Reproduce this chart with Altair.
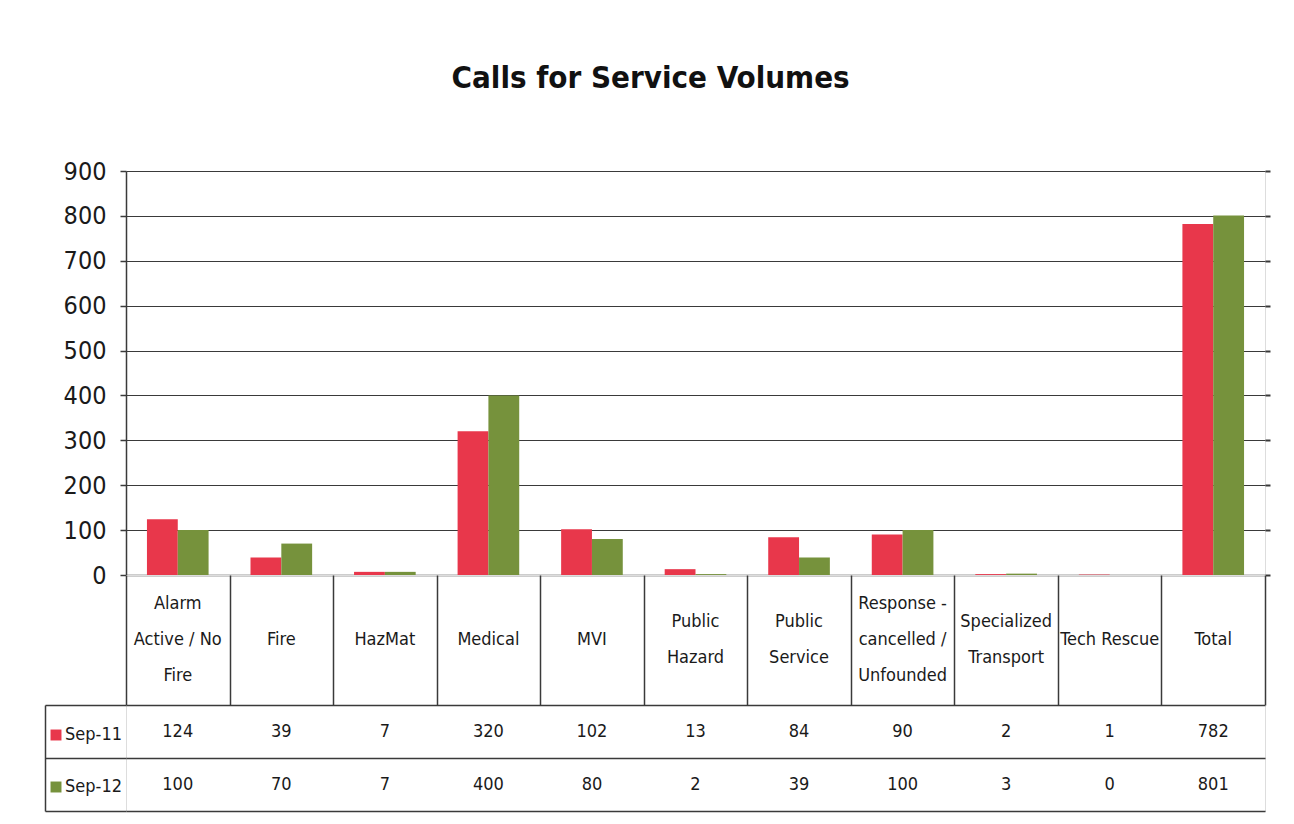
import altair as alt
import pandas as pd

categories = ["Alarm Active / No Fire", "Fire", "HazMat", "Medical", "MVI", "Public Hazard",
              "Public Service", "Response - cancelled / Unfounded", "Specialized Transport",
              "Tech Rescue", "Total"]
header_labels = ["Alarm|Active / No|Fire", "Fire", "HazMat", "Medical", "MVI", "Public|Hazard",
                 "Public|Service", "Response -|cancelled /|Unfounded", "Specialized|Transport",
                 "Tech Rescue", "Total"]
series = ["Sep-11", "Sep-12"]
sep11 = [124, 39, 7, 320, 102, 13, 84, 90, 2, 1, 782]
sep12 = [100, 70, 7, 400, 80, 2, 39, 100, 3, 0, 801]
colors = ["#E8374B", "#76923C"]
y_ticks = [0, 100, 200, 300, 400, 500, 600, 700, 800, 900]

rows = []
for c, a, b in zip(categories, sep11, sep12):
    rows.append({"category": c, "series": series[0], "value": a})
    rows.append({"category": c, "series": series[1], "value": b})
df = pd.DataFrame(rows)
ticks_df = pd.DataFrame({"v": y_ticks})

hdr_rows = []
for c, h in zip(categories, header_labels):
    parts = h.split("|")
    n = len(parts)
    for i, p in enumerate(parts):
        hdr_rows.append({"category": c, "line": p, "pos": i - (n - 1) / 2})
hdr = pd.DataFrame(hdr_rows)

FONT = "Liberation Sans Narrow, DejaVu Sans Condensed, sans-serif"
LINE = "#3a3a3a"
TXT = "#1a1a1a"
W = 1139

xscale = alt.Scale(domain=categories, paddingInner=0, paddingOuter=0)
yscale = alt.Scale(domain=[0, 900], nice=False)

bars = alt.Chart(df).mark_bar().encode(
    x=alt.X("category:N", sort=categories, scale=xscale,
            axis=alt.Axis(title=None, labels=False, ticks=False, domain=True,
                          domainColor=LINE, domainWidth=1.5, grid=False)),
    xOffset=alt.XOffset("series:N", sort=series,
                        scale=alt.Scale(domain=series, paddingOuter=0.68, paddingInner=0)),
    y=alt.Y("value:Q", scale=yscale,
            axis=alt.Axis(values=y_ticks, title=None, labelFontSize=25, labelColor=TXT,
                          grid=True, gridColor=LINE, gridWidth=1.2, tickSize=6,
                          tickColor=LINE, tickWidth=1.5, domain=True, domainColor=LINE,
                          domainWidth=1.5, labelPadding=14)),
    color=alt.Color("series:N", scale=alt.Scale(domain=series, range=colors), legend=None),
)

right_ticks = alt.Chart(ticks_df).mark_point(opacity=0).encode(
    y=alt.Y("v:Q", scale=yscale,
            axis=alt.Axis(orient="right", values=y_ticks, title=None, labels=False, grid=False,
                          domain=False, tickSize=5, tickColor=LINE, tickWidth=2)),
)

bar_panel = alt.layer(bars, right_ticks).resolve_axis(y="independent").properties(
    width=W, height=404)

header = alt.Chart(hdr).mark_text(fontSize=18, color=TXT).encode(
    x=alt.X("category:N", sort=categories, scale=xscale,
            axis=alt.Axis(title=None, labels=False, ticks=False, domain=False, grid=True,
                          tickBand="extent", gridColor=LINE, gridWidth=1.5)),
    y=alt.Y("pos:Q", scale=alt.Scale(domain=[1.8, -1.8], nice=False, zero=False), axis=None),
    text="line:N",
).properties(width=W, height=130)

vals = alt.Chart(df).mark_text(fontSize=18, color=TXT).encode(
    x=alt.X("category:N", sort=categories, scale=xscale, axis=None),
    y=alt.Y("series:N", sort=series, scale=alt.Scale(domain=series, paddingInner=0, paddingOuter=0),
            axis=alt.Axis(title=None, labels=False, domain=False, ticks=True, tickBand="extent",
                          tickSize=81, tickColor=LINE, tickWidth=1.5, grid=True,
                          gridColor=LINE, gridWidth=1.5)),
    text="value:Q",
)

legend_layer = alt.Chart(df).mark_square(opacity=0).encode(
    y=alt.Y("series:N", sort=series, scale=alt.Scale(domain=series, paddingInner=0, paddingOuter=0),
            axis=alt.Axis(orient="left", offset=81, title=None, labels=False, ticks=False,
                          grid=False, domain=True, domainColor=LINE, domainWidth=1.5)),
    color=alt.Color("series:N", scale=alt.Scale(domain=series, range=colors),
                    legend=alt.Legend(orient="none", legendX=-79, legendY=21, title=None,
                                      symbolType="square", symbolSize=120, symbolOpacity=1,
                                      symbolStrokeWidth=0, labelFontSize=18,
                                      labelColor=TXT, rowPadding=34, labelOffset=0)),
)

table_rows = alt.layer(vals, legend_layer).resolve_axis(y="independent").properties(
    width=W, height=106)

chart = alt.vconcat(bar_panel, header, table_rows, spacing=0, bounds="flush").resolve_legend(
    color="independent"
).properties(
    title=alt.TitleParams("Calls for Service Volumes", fontSize=31, fontWeight="bold",
                          anchor="middle", offset=64, color="#111111", dx=-7),
    padding={"top": 54, "left": 35, "right": 5, "bottom": 5},
).configure_view(stroke=None).configure(font=FONT)

chart.save("out.html", embed_options={"renderer": "svg", "actions": False})
